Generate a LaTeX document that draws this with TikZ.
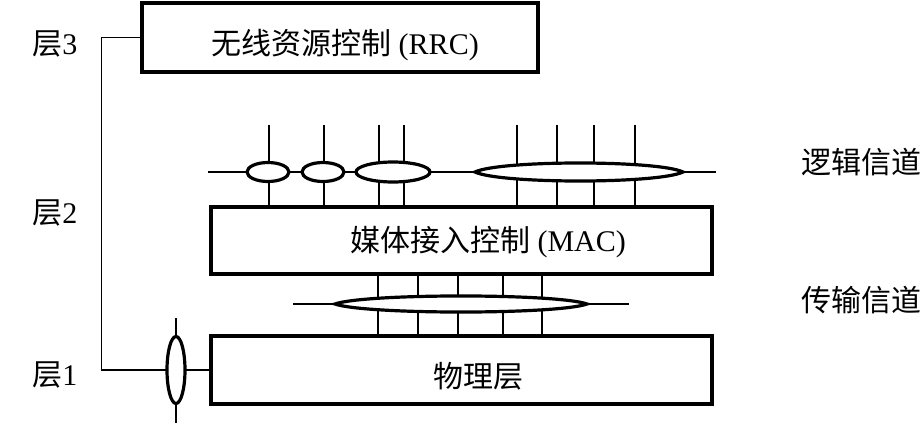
\documentclass[tikz,border=0pt]{standalone}
\usepackage{fontspec}
\setmainfont{Liberation Serif}
\newfontfamily\cjk{Noto Sans CJK SC}
\usetikzlibrary{shapes.geometric}
\begin{document}
\begin{tikzpicture}[x=0.5pt, y=-0.5pt, line width=0.85pt, font=\fontsize{15}{18}\selectfont,
  box/.style={draw, line width=1.6pt, inner sep=0pt},
  oval/.style={draw, ellipse, fill=white, line width=1.6pt, inner sep=0pt}]
  \useasboundingbox (0,0) rectangle (923,423);
  \node[box, minimum width=198pt, minimum height=34.5pt] (rrc) at (340,37.5) {};
  \node[box, minimum width=250.5pt, minimum height=33.5pt] (mac) at (461.5,240.5) {};
  \node[box, minimum width=250.5pt, minimum height=34pt] (phy) at (461.5,370) {};
  \node (rrctext) at (345,45) {{\cjk 无线资源控制} (RRC)};
  \node (mactext) at (488,242) {{\cjk 媒体接入控制} (MAC)};
  \node (phytext) at (478,376) {\cjk 物理层};
  \node (layer3) at (55,44) {{\cjk 层}3};
  \node (layer2) at (55,213) {{\cjk 层}2};
  \node (layer1) at (55,375) {{\cjk 层}1};
  \node (logch) at (861,162) {\cjk 逻辑信道};
  \node (trch) at (861,300) {\cjk 传输信道};
  \draw (rrc.west) -- ++(-39,0) |- (phy.west);
  \node[oval, minimum width=9pt, minimum height=33.5pt] (phyoval) at (176,370) {};
  \draw (phyoval.north) -- ++(0,-17);
  \draw (phyoval.south) -- ++(0,19);
  \coordinate (logl) at (208,172);
  \coordinate (logr) at (716,172);
  \draw (logl) -- (logr);
  \draw (269,125) -- (269,125 |- mac.north);
  \draw (324,125) -- (324,125 |- mac.north);
  \draw (379,125) -- (379,125 |- mac.north);
  \draw (404,125) -- (404,125 |- mac.north);
  \draw (517,125) -- (517,125 |- mac.north);
  \draw (557,125) -- (557,125 |- mac.north);
  \draw (594,125) -- (594,125 |- mac.north);
  \draw (635,125) -- (635,125 |- mac.north);
  \node[oval, minimum width=21pt, minimum height=9.5pt] (log1) at (268,172) {};
  \node[oval, minimum width=21pt, minimum height=9.5pt] (log2) at (323,172) {};
  \node[oval, minimum width=37pt, minimum height=10pt] (log3) at (393,172) {};
  \coordinate (log4l) at (475,172);
  \coordinate (log4r) at (683,172);
  \filldraw[fill=white, line width=1.6pt] (log4l) .. controls (500,160) and (658,160) .. (log4r) .. controls (658,184) and (500,184) .. (log4l) -- cycle;
  \coordinate (trl) at (293,304);
  \coordinate (trr) at (629,304);
  \draw (trl) -- (trr);
  \draw (378,0 |- mac.south) -- (378,0 |- phy.north);
  \draw (418,0 |- mac.south) -- (418,0 |- phy.north);
  \draw (458,0 |- mac.south) -- (458,0 |- phy.north);
  \draw (503,0 |- mac.south) -- (503,0 |- phy.north);
  \draw (542,0 |- mac.south) -- (542,0 |- phy.north);
  \coordinate (tr1l) at (335,304);
  \coordinate (tr1r) at (587,304);
  \filldraw[fill=white, line width=1.6pt] (tr1l) .. controls (365,293.3) and (557,293.3) .. (tr1r) .. controls (557,314.7) and (365,314.7) .. (tr1l) -- cycle;
\end{tikzpicture}
\end{document}
